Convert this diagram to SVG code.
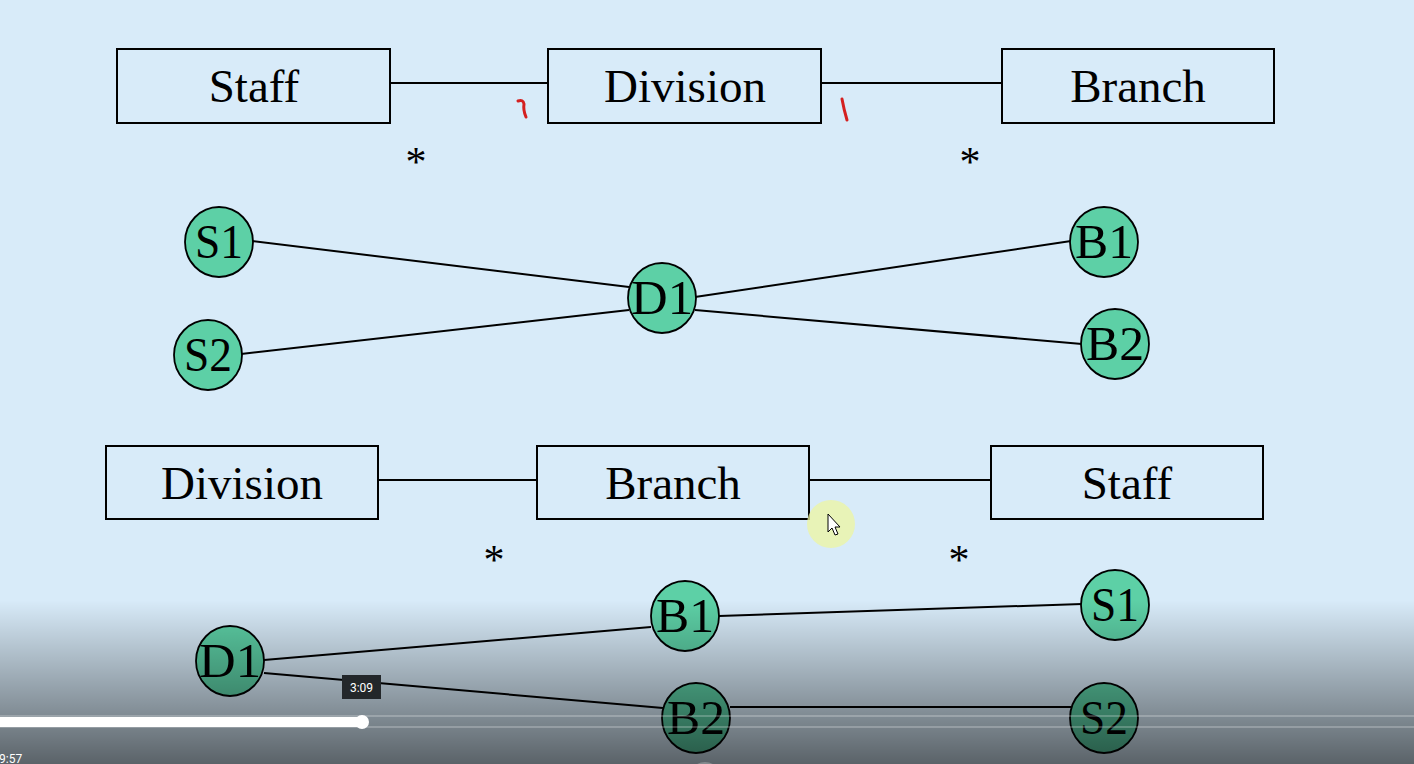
<svg xmlns="http://www.w3.org/2000/svg" width="1414" height="764" viewBox="0 0 1414 764">
<defs>
<style>
.box{fill:none;stroke:#000;stroke-width:2}
.lbl{font-family:"Liberation Serif","Times New Roman",serif;font-size:47px;fill:#000;text-anchor:middle}
.nd{fill:#5dd0a6;stroke:#000;stroke-width:1.8}
.nl{font-family:"Liberation Serif","Times New Roman",serif;font-size:48px;fill:#000;text-anchor:middle}
.ast{font-family:"Liberation Serif","Times New Roman",serif;font-size:42px;fill:#000;text-anchor:middle}
.cn line{stroke:#000;stroke-width:2}
.red{fill:none;stroke:#d42020;stroke-width:3;stroke-linecap:round}
</style>
<linearGradient id="shade" x1="0" y1="0" x2="0" y2="1">
<stop offset="0" stop-color="#000" stop-opacity="0"/>
<stop offset="1" stop-color="#000" stop-opacity="0.58"/>
</linearGradient>
</defs>
<rect width="1414" height="764" fill="#d8ebf9"/>

<g class="cn" id="connectors">
<line x1="390" y1="83" x2="548" y2="83"/>
<line x1="821" y1="83" x2="1002" y2="83"/>
<line x1="252" y1="241" x2="629" y2="287"/>
<line x1="241" y1="354" x2="629" y2="310"/>
<line x1="695" y1="297" x2="1071" y2="241"/>
<line x1="695" y1="310" x2="1082" y2="344"/>
<line x1="378" y1="480" x2="537" y2="480"/>
<line x1="809" y1="480" x2="991" y2="480"/>
<line x1="264" y1="660" x2="651" y2="627"/>
<line x1="264" y1="673" x2="663" y2="708"/>
<line x1="719" y1="616" x2="1082" y2="604"/>
<line x1="730" y1="707" x2="1071" y2="707"/>
</g>

<g id="box-staff-top"><rect class="box" x="117" y="49" width="273" height="74"/><text class="lbl" x="254" y="102">Staff</text></g>
<g id="box-division-top"><rect class="box" x="548" y="49" width="273" height="74"/><text class="lbl" x="685" y="102">Division</text></g>
<g id="box-branch-top"><rect class="box" x="1002" y="49" width="272" height="74"/><text class="lbl" x="1138" y="102">Branch</text></g>

<g id="mult-top">
<text class="ast" x="416" y="176">*</text>
<text class="ast" x="970" y="176">*</text>
<path class="red" d="M518 101 Q523 99 524 104 Q523 110 526 117"/>
<path class="red" d="M842 99 Q844 110 847 120"/>
</g>

<g id="node-S1a"><ellipse class="nd" cx="219" cy="242" rx="34" ry="35"/><text class="nl" x="219" y="258" textLength="48" lengthAdjust="spacingAndGlyphs">S1</text></g>
<g id="node-S2a"><ellipse class="nd" cx="208" cy="355" rx="34" ry="35"/><text class="nl" x="208" y="371" textLength="48" lengthAdjust="spacingAndGlyphs">S2</text></g>
<g id="node-D1a"><ellipse class="nd" cx="662" cy="298" rx="34" ry="35"/><text class="nl" x="662" y="314" textLength="62" lengthAdjust="spacingAndGlyphs">D1</text></g>
<g id="node-B1a"><ellipse class="nd" cx="1104" cy="242" rx="34" ry="35"/><text class="nl" x="1104" y="258" textLength="58" lengthAdjust="spacingAndGlyphs">B1</text></g>
<g id="node-B2a"><ellipse class="nd" cx="1115" cy="344" rx="34" ry="35"/><text class="nl" x="1115" y="360" textLength="58" lengthAdjust="spacingAndGlyphs">B2</text></g>

<g id="box-division-bot"><rect class="box" x="106" y="446" width="272" height="73"/><text class="lbl" x="242" y="499">Division</text></g>
<g id="box-branch-bot"><rect class="box" x="537" y="446" width="272" height="73"/><text class="lbl" x="673" y="499">Branch</text></g>
<g id="box-staff-bot"><rect class="box" x="991" y="446" width="272" height="73"/><text class="lbl" x="1127" y="499">Staff</text></g>

<g id="mult-bot">
<text class="ast" x="494" y="574">*</text>
<text class="ast" x="959" y="574">*</text>
</g>

<g id="node-D1b"><ellipse class="nd" cx="230" cy="661" rx="34" ry="35"/><text class="nl" x="230" y="677" textLength="62" lengthAdjust="spacingAndGlyphs">D1</text></g>
<g id="node-B1b"><ellipse class="nd" cx="685" cy="616" rx="34" ry="35"/><text class="nl" x="685" y="632" textLength="58" lengthAdjust="spacingAndGlyphs">B1</text></g>
<g id="node-S1b"><ellipse class="nd" cx="1115" cy="605" rx="34" ry="35"/><text class="nl" x="1115" y="621" textLength="48" lengthAdjust="spacingAndGlyphs">S1</text></g>
<g id="node-B2b"><ellipse class="nd" cx="696" cy="718" rx="34" ry="35"/><text class="nl" x="696" y="734" textLength="58" lengthAdjust="spacingAndGlyphs">B2</text></g>
<g id="node-S2b"><ellipse class="nd" cx="1104" cy="718" rx="34" ry="35"/><text class="nl" x="1104" y="734" textLength="48" lengthAdjust="spacingAndGlyphs">S2</text></g>

<g id="cursor">
<circle cx="831" cy="524" r="24" fill="#eef5a0" fill-opacity="0.75"/>
<path d="M828 514 L828 532 L832 528 L835 535 L838 534 L835 527 L840 527 Z" fill="#fff" stroke="#000" stroke-width="1"/>
</g>

<g id="player">
<rect x="0" y="600" width="1414" height="164" fill="url(#shade)"/>
<line x1="0" y1="716" x2="1414" y2="716" stroke="#fff" stroke-opacity="0.45" stroke-width="1"/>
<line x1="0" y1="727" x2="1414" y2="727" stroke="#fff" stroke-opacity="0.45" stroke-width="1"/>
<rect x="0" y="717" width="362" height="10" fill="#fff"/>
<circle cx="362" cy="722" r="7" fill="#fff"/>
<rect x="342" y="675" width="39" height="24" fill="#23272a"/>
<text x="361.5" y="692" font-family="Roboto,'Liberation Sans',sans-serif" font-size="12" fill="#fff" text-anchor="middle">3:09</text>
<text x="-1" y="763" font-family="Roboto,'Liberation Sans',sans-serif" font-size="12" fill="#fff">9:57</text>
<circle cx="705" cy="778" r="16" fill="#fff" fill-opacity="0.25"/>
</g>
</svg>
